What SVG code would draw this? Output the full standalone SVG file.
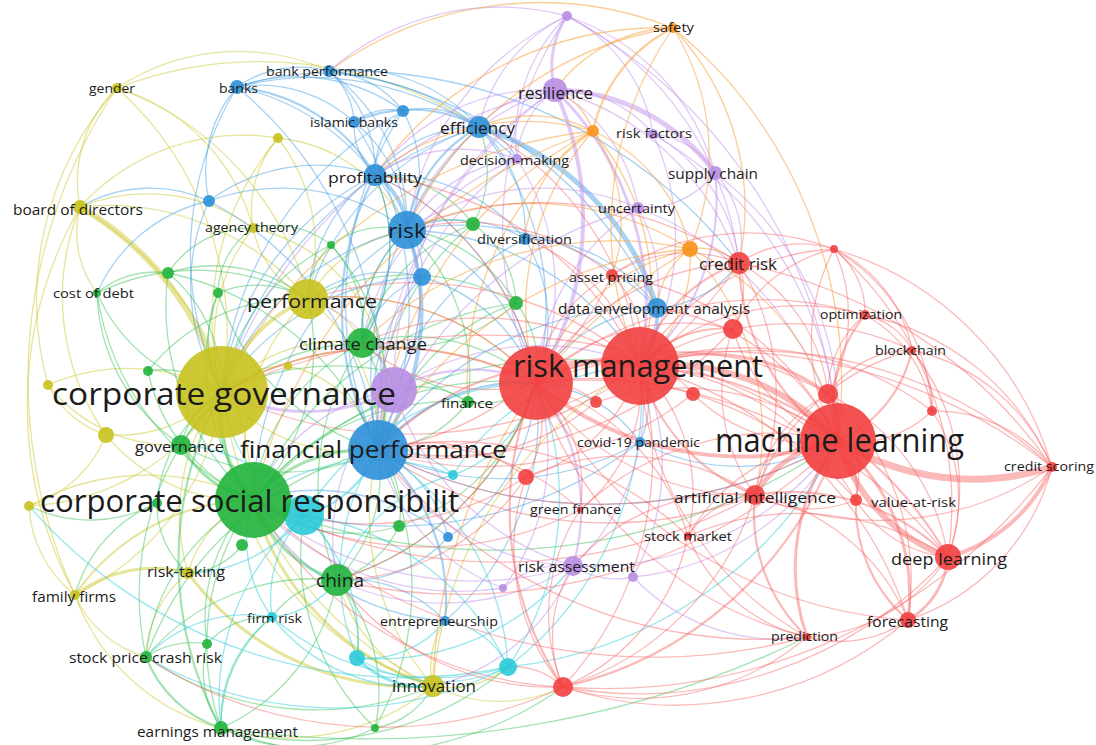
<svg xmlns="http://www.w3.org/2000/svg" width="1096" height="745" viewBox="0 0 1096 745">
<style>
.e path{fill:none;stroke-width:1.3;stroke-linecap:round}
.ey path{stroke:#d0ca38;stroke-opacity:.5}
.eg path{stroke:#34bf52;stroke-opacity:.45}
.eb path{stroke:#3d9be0;stroke-opacity:.45}
.ec path{stroke:#2fcfdb;stroke-opacity:.5}
.ep path{stroke:#c493ec;stroke-opacity:.5}
.eo path{stroke:#f8a442;stroke-opacity:.55}
.er path{stroke:#f65a5a;stroke-opacity:.42}
.e .t2{stroke-width:2.2}
.e .t3{stroke-width:3}
.e .t4{stroke-width:4}
.e .t5{stroke-width:5}
.e .t6{stroke-width:6}
.e .t7{stroke-width:7}
circle{fill-opacity:.9}
.y{fill:#c8c21e}
.g{fill:#21b43c}
.b{fill:#2e90d8}
.c{fill:#2bcad8}
.p{fill:#b88ee3}
.o{fill:#f7941d}
.r{fill:#f2403f}
text{font-family:"Open Sans","Noto Sans","DejaVu Sans",sans-serif;fill:#1b1b1b}
</style>
<rect width="1096" height="745" fill="#ffffff"/>
<g id="edges" class="e">
<g class="ey">
<path d="M117 88A130 130 0 0 0 80 207"/>
<path d="M117 88A330 330 0 0 1 222 392"/>
<path d="M117 88A300 300 0 0 1 308 299"/>
<path d="M117 88A200 200 0 0 1 253 228"/>
<path d="M117 88A220 220 0 0 1 329 71"/>
<path d="M117 88A400 400 0 0 1 479 127"/>
<path d="M117 88A320 320 0 0 0 48 385"/>
<path d="M117 88A520 520 0 0 0 75 595"/>
<path class="t6" d="M80 207A300 300 0 0 1 222 392"/>
<path d="M80 207A260 260 0 0 1 308 299"/>
<path d="M80 207A180 180 0 0 1 253 228"/>
<path d="M80 207A220 220 0 0 1 278 138"/>
<path d="M80 207A100 100 0 0 0 97 293"/>
<path d="M80 207A240 240 0 0 0 106 435"/>
<path d="M80 207A400 400 0 0 0 75 595"/>
<path d="M80 207A360 360 0 0 1 253 500"/>
<path d="M222 392A200 200 0 0 0 48 385"/>
<path d="M222 392A150 150 0 0 1 106 435"/>
<path d="M222 392A240 240 0 0 1 29 506"/>
<path d="M222 392A260 260 0 0 1 75 595"/>
<path d="M222 392A200 200 0 0 0 188 573"/>
<path class="t4" d="M222 392A150 150 0 0 1 308 299"/>
<path d="M222 392A380 380 0 0 0 433 686"/>
<path d="M222 392A180 180 0 0 1 253 228"/>
<path d="M222 392A170 170 0 0 0 378 450"/>
<path d="M222 392A330 330 0 0 1 536 383"/>
<path d="M48 385A100 100 0 0 0 106 435"/>
<path d="M106 435A120 120 0 0 1 29 506"/>
<path d="M29 506A120 120 0 0 0 75 595"/>
<path d="M29 506A240 240 0 0 1 253 500"/>
<path class="t3" d="M75 595A130 130 0 0 1 188 573"/>
<path class="t2" d="M75 595A220 220 0 0 1 253 500"/>
<path d="M75 595A110 110 0 0 0 146 657"/>
<path d="M188 573A110 110 0 0 1 253 500"/>
<path class="t3" d="M433 686A270 270 0 0 1 253 500"/>
<path d="M433 686A160 160 0 0 1 337 580"/>
<path d="M433 686A80 80 0 0 1 445 621"/>
<path d="M433 686A90 90 0 0 0 508 667"/>
<path d="M433 686A260 260 0 0 1 378 450"/>
<path d="M433 686A150 150 0 0 0 563 687"/>
<path class="t3" d="M433 686A280 280 0 0 1 188 573"/>
<path d="M308 299A100 100 0 0 1 253 228"/>
<path d="M308 299A80 80 0 0 1 362 343"/>
<path d="M308 299A180 180 0 0 1 378 450"/>
<path d="M308 299A140 140 0 0 1 407 230"/>
<path d="M308 299A260 260 0 0 1 536 383"/>
<path d="M278 138A110 110 0 0 0 253 228"/>
<path d="M278 138A180 180 0 0 1 308 299"/>
<path d="M278 138A280 280 0 0 0 222 392"/>
<path d="M278 138A160 160 0 0 1 407 230"/>
<path d="M288 366A90 90 0 0 0 222 392"/>
<path d="M75 595A210 210 0 0 0 221 728"/>
<path d="M106 435A180 180 0 0 0 253 500"/>
<path d="M48 385A160 160 0 0 0 181 445"/>
<path d="M222 392A160 160 0 0 1 362 343"/>
<path d="M188 573A110 110 0 0 0 146 657"/>
<path d="M433 686A230 230 0 0 1 221 728"/>
<path d="M433 686A400 400 0 0 1 640 366"/>
<path d="M288 366A120 120 0 0 1 378 450"/>
<path d="M308 299A200 200 0 0 0 253 500"/>
<path d="M253 228A170 170 0 0 1 378 450"/>
<path d="M433 686A300 300 0 0 1 222 392"/>
</g>
<g class="eg">
<path class="t3" d="M253 500A110 110 0 0 1 181 445"/>
<path d="M253 500A200 200 0 0 1 362 343"/>
<path class="t3" d="M253 500A130 130 0 0 0 337 580"/>
<path d="M253 500A200 200 0 0 0 146 657"/>
<path d="M253 500A250 250 0 0 0 221 728"/>
<path d="M253 500A250 250 0 0 1 468 402"/>
<path d="M253 500A170 170 0 0 0 207 644"/>
<path class="t4" d="M253 500A130 130 0 0 1 222 392"/>
<path class="t3" d="M253 500A150 150 0 0 1 378 450"/>
<path d="M253 500A320 320 0 0 1 536 383"/>
<path d="M253 500A160 160 0 0 0 399 526"/>
<path d="M253 500A220 220 0 0 1 218 293"/>
<path d="M253 500A260 260 0 0 1 168 273"/>
<path d="M253 500A270 270 0 0 1 97 293"/>
<path d="M253 500A220 220 0 0 0 308 299"/>
<path d="M253 500A420 420 0 0 1 640 366"/>
<path d="M253 500A600 600 0 0 0 838 441"/>
<path d="M337 580A200 200 0 0 1 221 728"/>
<path d="M337 580A220 220 0 0 0 146 657"/>
<path d="M337 580A90 90 0 0 0 272 617"/>
<path d="M337 580A170 170 0 0 1 375 728"/>
<path d="M337 580A100 100 0 0 1 357 658"/>
<path d="M337 580A150 150 0 0 0 378 450"/>
<path d="M337 580A250 250 0 0 1 362 343"/>
<path d="M337 580A300 300 0 0 0 536 383"/>
<path d="M362 343A120 120 0 0 1 378 450"/>
<path d="M362 343A190 190 0 0 1 536 383"/>
<path d="M362 343A120 120 0 0 0 331 245"/>
<path d="M362 343A70 70 0 0 1 394 390"/>
<path d="M362 343A140 140 0 0 1 407 230"/>
<path d="M168 273A150 150 0 0 1 222 392"/>
<path d="M168 273A90 90 0 0 0 97 293"/>
<path d="M168 273A290 290 0 0 1 378 450"/>
<path d="M218 293A110 110 0 0 0 222 392"/>
<path d="M218 293A100 100 0 0 1 308 299"/>
<path d="M97 293A170 170 0 0 0 222 392"/>
<path d="M97 293A190 190 0 0 0 181 445"/>
<path d="M148 371A90 90 0 0 1 222 392"/>
<path d="M148 371A180 180 0 0 0 253 500"/>
<path class="t2" d="M146 657A120 120 0 0 0 221 728"/>
<path d="M146 657A80 80 0 0 1 207 644"/>
<path d="M146 657A290 290 0 0 1 222 392"/>
<path d="M221 728A100 100 0 0 1 207 644"/>
<path class="t2" d="M221 728A350 350 0 0 1 222 392"/>
<path d="M221 728A170 170 0 0 0 375 728"/>
<path d="M221 728A140 140 0 0 1 272 617"/>
<path d="M207 644A80 80 0 0 1 272 617"/>
<path d="M375 728A240 240 0 0 1 304 515"/>
<path d="M375 728A290 290 0 0 0 378 450"/>
<path d="M468 402A80 80 0 0 0 536 383"/>
<path d="M468 402A260 260 0 0 0 222 392"/>
<path d="M473 224A80 80 0 0 0 407 230"/>
<path d="M473 224A260 260 0 0 0 378 450"/>
<path d="M473 224A100 100 0 0 1 516 303"/>
<path d="M516 303A100 100 0 0 1 536 383"/>
<path d="M516 303A220 220 0 0 0 378 450"/>
<path d="M516 303A340 340 0 0 0 253 500"/>
<path d="M181 445A80 80 0 0 1 222 392"/>
<path d="M242 545A70 70 0 0 1 188 573"/>
<path d="M399 526A90 90 0 0 0 378 450"/>
<path d="M157 503A150 150 0 0 1 222 392"/>
<path d="M221 728A310 310 0 0 0 508 667"/>
<path d="M221 728A360 360 0 0 0 563 687"/>
<path d="M146 657A300 300 0 0 0 433 686"/>
<path d="M375 728A80 80 0 0 0 433 686"/>
<path d="M331 245A90 90 0 0 1 407 230"/>
<path d="M331 245A220 220 0 0 1 378 450"/>
<path d="M362 343A180 180 0 0 1 473 224"/>
<path d="M221 728A1000 1000 0 0 0 807 637"/>
<path d="M516 303A150 150 0 0 0 407 230"/>
<path d="M516 303A170 170 0 0 1 362 343"/>
<path d="M516 303A220 220 0 0 0 308 299"/>
<path d="M331 245A200 200 0 0 0 222 392"/>
<path d="M331 245A70 70 0 0 0 308 299"/>
<path d="M331 245A90 90 0 0 0 253 228"/>
<path d="M468 402A120 120 0 0 1 378 450"/>
<path d="M468 402A90 90 0 0 0 394 390"/>
<path d="M468 402A200 200 0 0 0 407 230"/>
<path d="M399 526A100 100 0 0 1 337 580"/>
<path d="M399 526A210 210 0 0 0 536 383"/>
<path d="M362 343A180 180 0 0 0 375 175"/>
<path d="M473 224A120 120 0 0 0 375 175"/>
<path d="M473 224A110 110 0 0 0 479 127"/>
<path d="M97 293A230 230 0 0 1 308 299"/>
<path d="M168 273A150 150 0 0 1 308 299"/>
<path d="M168 273A100 100 0 0 1 253 228"/>
<path d="M218 293A80 80 0 0 1 253 228"/>
<path d="M218 293A240 240 0 0 0 378 450"/>
<path d="M148 371A190 190 0 0 1 308 299"/>
<path d="M157 503A140 140 0 0 0 75 595"/>
<path d="M157 503A90 90 0 0 0 188 573"/>
<path d="M157 503A140 140 0 0 1 29 506"/>
<path d="M181 445A210 210 0 0 0 378 450"/>
<path d="M181 445A220 220 0 0 1 362 343"/>
<path d="M146 657A330 330 0 0 1 378 450"/>
</g>
<g class="eb">
<path d="M237 87A110 110 0 0 1 329 71"/>
<path d="M237 87A140 140 0 0 1 354 122"/>
<path class="t2" d="M237 87A180 180 0 0 1 375 175"/>
<path d="M237 87A240 240 0 0 1 407 230"/>
<path d="M237 87A400 400 0 0 1 378 450"/>
<path d="M237 87A130 130 0 0 0 209 201"/>
<path d="M237 87A260 260 0 0 1 479 127"/>
<path d="M237 87A180 180 0 0 1 403 111"/>
<path d="M237 87A320 320 0 0 0 222 392"/>
<path d="M329 71A70 70 0 0 1 354 122"/>
<path d="M329 71A130 130 0 0 1 375 175"/>
<path d="M329 71A170 170 0 0 1 479 127"/>
<path d="M329 71A100 100 0 0 1 403 111"/>
<path d="M329 71A190 190 0 0 1 407 230"/>
<path d="M329 71A420 420 0 0 1 657 308"/>
<path d="M329 71A500 500 0 0 1 739 263"/>
<path d="M354 122A70 70 0 0 0 375 175"/>
<path class="t2" d="M354 122A140 140 0 0 1 479 127"/>
<path d="M354 122A140 140 0 0 1 407 230"/>
<path d="M354 122A60 60 0 0 1 403 111"/>
<path d="M403 111A90 90 0 0 1 479 127"/>
<path d="M403 111A80 80 0 0 0 375 175"/>
<path class="t4" d="M375 175A70 70 0 0 1 407 230"/>
<path class="t2" d="M375 175A290 290 0 0 0 378 450"/>
<path d="M375 175A130 130 0 0 1 479 127"/>
<path class="t4" d="M407 230A240 240 0 0 1 378 450"/>
<path class="t2" d="M407 230A140 140 0 0 1 479 127"/>
<path d="M407 230A60 60 0 0 1 422 277"/>
<path d="M407 230A130 130 0 0 1 525 239"/>
<path d="M407 230A260 260 0 0 0 222 392"/>
<path d="M407 230A210 210 0 0 1 536 383"/>
<path d="M407 230A280 280 0 0 1 640 366"/>
<path class="t5" d="M479 127A270 270 0 0 1 657 308"/>
<path d="M479 127A60 60 0 0 1 517 159"/>
<path d="M479 127A140 140 0 0 1 525 239"/>
<path d="M479 127A280 280 0 0 1 536 383"/>
<path d="M209 201A320 320 0 0 1 378 450"/>
<path d="M209 201A210 210 0 0 1 407 230"/>
<path d="M209 201A200 200 0 0 0 222 392"/>
<path d="M209 201A160 160 0 0 0 97 293"/>
<path d="M209 201A180 180 0 0 1 375 175"/>
<path class="t2" d="M378 450A200 200 0 0 1 445 621"/>
<path d="M378 450A130 130 0 0 1 448 537"/>
<path class="t2" d="M378 450A190 190 0 0 1 536 383"/>
<path d="M378 450A280 280 0 0 0 640 442"/>
<path d="M657 308A280 280 0 0 0 407 230"/>
<path class="t3" d="M657 308A80 80 0 0 1 640 366"/>
<path d="M657 308A160 160 0 0 0 536 383"/>
<path d="M640 442A140 140 0 0 0 536 383"/>
<path d="M640 442A90 90 0 0 0 640 366"/>
<path d="M445 621A130 130 0 0 0 337 580"/>
<path d="M445 621A240 240 0 0 1 253 500"/>
<path d="M422 277A190 190 0 0 0 378 450"/>
<path d="M448 537A210 210 0 0 0 253 500"/>
<path d="M525 239A270 270 0 0 0 378 450"/>
<path d="M422 277A170 170 0 0 1 536 383"/>
<path d="M403 111A350 350 0 0 0 378 450"/>
<path d="M479 127A350 350 0 0 0 378 450"/>
<path d="M237 87A300 300 0 0 1 517 159"/>
<path d="M209 201A140 140 0 0 0 80 207"/>
<path d="M445 621A270 270 0 0 0 536 383"/>
<path d="M378 450A480 480 0 0 0 838 441"/>
<path d="M640 442A210 210 0 0 0 838 441"/>
<path d="M375 175A280 280 0 0 0 222 392"/>
<path d="M375 175A160 160 0 0 0 308 299"/>
<path d="M375 175A180 180 0 0 1 362 343"/>
<path d="M375 175A180 180 0 0 1 525 239"/>
<path d="M375 175A280 280 0 0 1 536 383"/>
<path d="M407 230A140 140 0 0 0 362 343"/>
<path d="M407 230A330 330 0 0 0 253 500"/>
<path d="M407 230A180 180 0 0 1 394 390"/>
<path d="M422 277A100 100 0 0 0 362 343"/>
<path d="M422 277A250 250 0 0 0 222 392"/>
<path d="M422 277A130 130 0 0 0 308 299"/>
<path d="M479 127A380 380 0 0 0 222 392"/>
<path d="M479 127A260 260 0 0 0 308 299"/>
<path d="M403 111A130 130 0 0 1 407 230"/>
<path d="M403 111A350 350 0 0 0 222 392"/>
<path d="M354 122A340 340 0 0 1 378 450"/>
<path d="M525 239A160 160 0 0 1 536 383"/>
<path d="M525 239A160 160 0 0 1 657 308"/>
<path d="M448 537A190 190 0 0 0 536 383"/>
<path d="M448 537A130 130 0 0 1 337 580"/>
<path d="M657 308A330 330 0 0 0 378 450"/>
<path d="M657 308A110 110 0 0 0 739 263"/>
<path d="M640 442A400 400 0 0 1 253 500"/>
</g>
<g class="ec">
<path class="t3" d="M304 515A70 70 0 0 1 253 500"/>
<path class="t2" d="M304 515A110 110 0 0 0 378 450"/>
<path d="M304 515A80 80 0 0 1 337 580"/>
<path d="M304 515A120 120 0 0 0 272 617"/>
<path d="M304 515A170 170 0 0 1 357 658"/>
<path d="M304 515A270 270 0 0 1 508 667"/>
<path d="M304 515A160 160 0 0 1 222 392"/>
<path d="M272 617A130 130 0 0 1 253 500"/>
<path d="M272 617A90 90 0 0 0 337 580"/>
<path class="t3" d="M357 658A90 90 0 0 0 433 686"/>
<path d="M357 658A160 160 0 0 0 508 667"/>
<path d="M508 667A300 300 0 0 0 536 383"/>
<path d="M508 667A270 270 0 0 0 378 450"/>
<path d="M453 475A90 90 0 0 0 378 450"/>
<path d="M453 475A210 210 0 0 0 253 500"/>
<path d="M508 667A380 380 0 0 1 146 657"/>
<path d="M272 617A250 250 0 0 0 508 667"/>
<path d="M508 667A80 80 0 0 0 445 621"/>
<path d="M508 667A340 340 0 0 0 640 366"/>
<path d="M357 658A220 220 0 0 1 378 450"/>
<path d="M453 475A130 130 0 0 0 536 383"/>
<path d="M304 515A280 280 0 0 1 536 383"/>
<path d="M508 667A420 420 0 0 0 838 441"/>
<path d="M508 667A500 500 0 0 1 29 506"/>
<path d="M304 515A160 160 0 0 0 181 445"/>
<path d="M304 515A150 150 0 0 1 188 573"/>
<path d="M304 515A240 240 0 0 0 221 728"/>
<path d="M453 475A230 230 0 0 1 640 366"/>
<path d="M453 475A170 170 0 0 0 337 580"/>
<path d="M272 617A130 130 0 0 0 221 728"/>
<path d="M272 617A140 140 0 0 0 146 657"/>
<path d="M272 617A180 180 0 0 0 433 686"/>
<path d="M357 658A100 100 0 0 0 445 621"/>
<path d="M357 658A250 250 0 0 0 573 566"/>
</g>
<g class="ep">
<path class="t3" d="M555 90A90 90 0 0 1 567 16"/>
<path d="M555 90A90 90 0 0 0 517 159"/>
<path d="M555 90A100 100 0 0 0 479 127"/>
<path d="M555 90A160 160 0 0 1 638 208"/>
<path class="t5" d="M555 90A200 200 0 0 1 715 173"/>
<path d="M555 90A120 120 0 0 1 653 134"/>
<path class="t4" d="M555 90A310 310 0 0 1 536 383"/>
<path class="t3" d="M555 90A300 300 0 0 1 640 366"/>
<path d="M555 90A220 220 0 0 0 407 230"/>
<path d="M567 16A380 380 0 0 0 536 383"/>
<path d="M567 16A160 160 0 0 0 479 127"/>
<path d="M567 16A230 230 0 0 1 715 173"/>
<path d="M567 16A160 160 0 0 1 653 134"/>
<path d="M567 16A320 320 0 0 1 739 263"/>
<path d="M567 16A170 170 0 0 0 517 159"/>
<path d="M567 16A280 280 0 0 0 407 230"/>
<path d="M567 16A260 260 0 0 0 329 71"/>
<path d="M715 173A80 80 0 0 0 653 134"/>
<path d="M715 173A90 90 0 0 1 638 208"/>
<path class="t2" d="M715 173A220 220 0 0 1 640 366"/>
<path d="M715 173A100 100 0 0 1 739 263"/>
<path d="M715 173A310 310 0 0 1 838 441"/>
<path d="M638 208A170 170 0 0 1 640 366"/>
<path d="M638 208A220 220 0 0 0 536 383"/>
<path d="M517 159A240 240 0 0 1 536 383"/>
<path d="M517 159A150 150 0 0 0 407 230"/>
<path class="t3" d="M394 390A190 190 0 0 1 222 392"/>
<path d="M394 390A80 80 0 0 0 378 450"/>
<path class="t2" d="M394 390A160 160 0 0 1 536 383"/>
<path d="M394 390A190 190 0 0 0 253 500"/>
<path d="M394 390A350 350 0 0 1 555 90"/>
<path class="t2" d="M573 566A200 200 0 0 0 536 383"/>
<path d="M573 566A220 220 0 0 0 640 366"/>
<path d="M573 566A310 310 0 0 0 838 441"/>
<path d="M573 566A80 80 0 0 0 633 577"/>
<path d="M573 566A90 90 0 0 0 503 588"/>
<path d="M573 566A240 240 0 0 1 378 450"/>
<path d="M653 134A250 250 0 0 1 640 366"/>
<path d="M653 134A170 170 0 0 1 739 263"/>
<path d="M633 577A230 230 0 0 0 640 366"/>
<path d="M503 588A200 200 0 0 1 378 450"/>
<path d="M555 90A270 270 0 0 1 739 263"/>
<path d="M638 208A320 320 0 0 1 838 441"/>
<path d="M653 134A370 370 0 0 1 838 441"/>
<path d="M394 390A270 270 0 0 0 573 566"/>
<path d="M567 16A520 520 0 0 1 838 441"/>
<path d="M633 577A200 200 0 0 0 807 637"/>
<path d="M573 566A200 200 0 0 1 433 686"/>
<path d="M394 390A130 130 0 0 0 308 299"/>
<path d="M394 390A180 180 0 0 0 407 230"/>
<path d="M394 390A210 210 0 0 0 337 580"/>
<path d="M394 390A260 260 0 0 1 640 366"/>
<path d="M517 159A340 340 0 0 0 378 450"/>
<path d="M517 159A160 160 0 0 0 375 175"/>
<path d="M517 159A250 250 0 0 0 362 343"/>
<path d="M638 208A370 370 0 0 0 378 450"/>
<path d="M638 208A240 240 0 0 0 407 230"/>
<path d="M555 90A420 420 0 0 0 378 450"/>
<path d="M555 90A210 210 0 0 0 375 175"/>
<path d="M555 90A460 460 0 0 0 222 392"/>
<path d="M573 566A340 340 0 0 1 253 500"/>
<path d="M573 566A250 250 0 0 1 337 580"/>
<path d="M503 588A280 280 0 0 1 253 500"/>
<path d="M503 588A220 220 0 0 0 536 383"/>
<path d="M633 577A260 260 0 0 0 838 441"/>
</g>
<g class="eo">
<path class="t2" d="M673 28A150 150 0 0 0 593 131"/>
<path d="M673 28A240 240 0 0 1 690 249"/>
<path d="M673 28A150 150 0 0 0 555 90"/>
<path d="M673 28A350 350 0 0 0 407 230"/>
<path d="M673 28A260 260 0 0 1 739 263"/>
<path d="M673 28A350 350 0 0 0 640 366"/>
<path d="M673 28A460 460 0 0 1 838 441"/>
<path d="M593 131A70 70 0 0 0 555 90"/>
<path d="M593 131A270 270 0 0 0 536 383"/>
<path d="M593 131A250 250 0 0 1 640 366"/>
<path d="M593 131A160 160 0 0 1 612 275"/>
<path d="M593 131A130 130 0 0 0 479 127"/>
<path d="M593 131A170 170 0 0 1 690 249"/>
<path d="M593 131A240 240 0 0 0 375 175"/>
<path d="M690 249A140 140 0 0 1 640 366"/>
<path d="M690 249A60 60 0 0 1 739 263"/>
<path d="M690 249A260 260 0 0 1 838 441"/>
<path d="M690 249A80 80 0 0 0 657 308"/>
<path d="M690 249A300 300 0 0 0 407 230"/>
<path d="M690 249A360 360 0 0 0 362 343"/>
<path d="M593 131A470 470 0 0 0 222 392"/>
<path d="M690 249A270 270 0 0 1 755 495"/>
<path d="M593 131A140 140 0 0 0 525 239"/>
<path d="M673 28A360 360 0 0 0 329 71"/>
<path d="M690 249A520 520 0 0 0 433 686"/>
<path d="M593 131A310 310 0 0 0 468 402"/>
<path d="M593 131A400 400 0 0 0 378 450"/>
<path d="M593 131A520 520 0 0 0 253 500"/>
<path d="M690 249A390 390 0 0 0 378 450"/>
<path d="M673 28A350 350 0 0 0 375 175"/>
<path d="M690 249A220 220 0 0 0 536 383"/>
</g>
<g class="er">
<path class="t6" d="M536 383A120 120 0 0 1 640 366"/>
<path class="t6" d="M640 366A230 230 0 0 1 838 441"/>
<path class="t4" d="M536 383A320 320 0 0 0 838 441"/>
<path class="t7" d="M838 441A260 260 0 0 0 1052 467"/>
<path class="t6" d="M838 441A180 180 0 0 0 948 557"/>
<path class="t5" d="M838 441A110 110 0 0 0 755 495"/>
<path class="t3" d="M838 441A200 200 0 0 1 908 620"/>
<path class="t3" d="M838 441A210 210 0 0 0 807 637"/>
<path class="t2" d="M838 441A70 70 0 0 1 856 500"/>
<path class="t3" d="M838 441A60 60 0 0 0 828 394"/>
<path d="M838 441A110 110 0 0 0 932 411"/>
<path class="t2" d="M838 441A130 130 0 0 0 912 350"/>
<path class="t2" d="M838 441A140 140 0 0 1 865 315"/>
<path d="M838 441A200 200 0 0 1 834 249"/>
<path class="t2" d="M838 441A220 220 0 0 1 739 263"/>
<path d="M838 441A170 170 0 0 1 733 329"/>
<path d="M838 441A170 170 0 0 1 693 394"/>
<path class="t4" d="M1052 467A160 160 0 0 1 948 557"/>
<path d="M1052 467A150 150 0 0 0 932 411"/>
<path d="M1052 467A320 320 0 0 0 834 249"/>
<path d="M1052 467A310 310 0 0 1 755 495"/>
<path d="M1052 467A220 220 0 0 1 908 620"/>
<path class="t3" d="M948 557A80 80 0 0 1 908 620"/>
<path class="t2" d="M948 557A220 220 0 0 0 755 495"/>
<path d="M948 557A220 220 0 0 0 828 394"/>
<path d="M948 557A120 120 0 0 1 856 500"/>
<path d="M948 557A160 160 0 0 0 932 411"/>
<path d="M948 557A180 180 0 0 1 807 637"/>
<path d="M948 557A220 220 0 0 0 912 350"/>
<path d="M908 620A120 120 0 0 1 807 637"/>
<path d="M908 620A210 210 0 0 0 755 495"/>
<path class="t2" d="M908 620A150 150 0 0 1 856 500"/>
<path d="M908 620A250 250 0 0 0 828 394"/>
<path class="t2" d="M807 637A170 170 0 0 1 755 495"/>
<path d="M807 637A330 330 0 0 1 640 366"/>
<path d="M807 637A170 170 0 0 1 688 536"/>
<path class="t2" d="M755 495A190 190 0 0 1 640 366"/>
<path d="M755 495A260 260 0 0 1 536 383"/>
<path d="M755 495A90 90 0 0 0 688 536"/>
<path d="M755 495A120 120 0 0 0 856 500"/>
<path d="M755 495A180 180 0 0 1 733 329"/>
<path d="M755 495A230 230 0 0 1 912 350"/>
<path d="M834 249A110 110 0 0 0 739 263"/>
<path d="M834 249A150 150 0 0 0 733 329"/>
<path d="M834 249A240 240 0 0 0 640 366"/>
<path d="M834 249A140 140 0 0 1 912 350"/>
<path d="M834 249A80 80 0 0 1 865 315"/>
<path d="M834 249A160 160 0 0 1 828 394"/>
<path d="M834 249A240 240 0 0 0 612 275"/>
<path d="M865 315A100 100 0 0 0 828 394"/>
<path d="M865 315A70 70 0 0 1 912 350"/>
<path d="M865 315A240 240 0 0 0 640 366"/>
<path d="M912 350A100 100 0 0 0 828 394"/>
<path d="M912 350A80 80 0 0 1 932 411"/>
<path d="M912 350A290 290 0 0 0 640 366"/>
<path class="t2" d="M739 263A160 160 0 0 0 640 366"/>
<path d="M739 263A80 80 0 0 1 733 329"/>
<path d="M739 263A250 250 0 0 0 536 383"/>
<path d="M739 263A140 140 0 0 0 612 275"/>
<path class="t2" d="M733 329A110 110 0 0 0 640 366"/>
<path d="M733 329A210 210 0 0 0 536 383"/>
<path d="M693 394A70 70 0 0 0 640 366"/>
<path d="M596 402A80 80 0 0 0 536 383"/>
<path d="M526 477A110 110 0 0 0 536 383"/>
<path d="M526 477A170 170 0 0 0 640 366"/>
<path d="M526 477A220 220 0 0 0 563 687"/>
<path class="t2" d="M563 687A320 320 0 0 1 536 383"/>
<path d="M563 687A340 340 0 0 0 640 366"/>
<path d="M563 687A130 130 0 0 1 573 566"/>
<path d="M563 687A190 190 0 0 1 580 510"/>
<path class="t2" d="M563 687A380 380 0 0 0 838 441"/>
<path d="M563 687A290 290 0 0 0 755 495"/>
<path d="M563 687A420 420 0 0 0 948 557"/>
<path d="M580 510A140 140 0 0 0 536 383"/>
<path d="M580 510A160 160 0 0 0 640 366"/>
<path d="M688 536A180 180 0 0 0 640 366"/>
<path d="M612 275A140 140 0 0 0 536 383"/>
<path d="M612 275A100 100 0 0 1 640 366"/>
<path class="t2" d="M536 383A330 330 0 0 0 222 392"/>
<path class="t2" d="M640 366A290 290 0 0 0 378 450"/>
<path d="M838 441A480 480 0 0 1 378 450"/>
<path d="M563 687A70 70 0 0 0 508 667"/>
<path d="M563 687A430 430 0 0 1 146 657"/>
<path d="M1052 467A560 560 0 0 1 563 687"/>
<path d="M807 637A260 260 0 0 1 563 687"/>
<path d="M838 441A540 540 0 0 1 337 580"/>
<path class="t3" d="M828 394A200 200 0 0 0 640 366"/>
<path d="M828 394A170 170 0 0 0 739 263"/>
<path d="M932 411A200 200 0 0 0 834 249"/>
<path d="M932 411A130 130 0 0 0 865 315"/>
<path d="M856 500A270 270 0 0 0 640 366"/>
<path class="t2" d="M948 557A380 380 0 0 0 640 366"/>
<path d="M908 620A380 380 0 0 0 640 366"/>
<path d="M1052 467A440 440 0 0 0 640 366"/>
<path d="M1052 467A200 200 0 0 0 912 350"/>
<path d="M1052 467A260 260 0 0 0 865 315"/>
<path d="M834 249A340 340 0 0 1 948 557"/>
<path d="M657 308A240 240 0 0 1 838 441"/>
<path d="M573 566A210 210 0 0 1 755 495"/>
<path d="M688 536A190 190 0 0 1 838 441"/>
<path d="M580 510A280 280 0 0 1 838 441"/>
<path d="M807 637A380 380 0 0 1 536 383"/>
<path d="M908 620A460 460 0 0 1 536 383"/>
<path d="M596 402A260 260 0 0 1 838 441"/>
<path d="M612 275A300 300 0 0 1 838 441"/>
<path d="M739 263A250 250 0 0 1 755 495"/>
<path d="M828 394A140 140 0 0 0 755 495"/>
<path d="M856 500A120 120 0 0 0 828 394"/>
<path d="M739 263A500 500 0 0 1 1052 467"/>
<path d="M536 383A260 260 0 0 0 308 299"/>
<path d="M536 383A190 190 0 0 1 362 343"/>
<path d="M536 383A300 300 0 0 1 337 580"/>
<path d="M536 383A280 280 0 0 0 375 175"/>
<path d="M640 366A430 430 0 0 1 222 392"/>
<path d="M640 366A350 350 0 0 0 308 299"/>
<path d="M640 366A290 290 0 0 0 362 343"/>
<path d="M640 366A340 340 0 0 0 375 175"/>
<path d="M640 366A300 300 0 0 0 479 127"/>
<path d="M640 366A190 190 0 0 0 525 239"/>
<path d="M596 402A240 240 0 0 1 378 450"/>
<path d="M526 477A160 160 0 0 0 378 450"/>
<path d="M526 477A290 290 0 0 1 253 500"/>
<path d="M526 477A230 230 0 0 1 337 580"/>
<path d="M563 687A270 270 0 0 1 337 580"/>
<path d="M563 687A380 380 0 0 1 253 500"/>
<path d="M580 510A230 230 0 0 0 378 450"/>
<path d="M580 510A340 340 0 0 1 253 500"/>
<path d="M688 536A340 340 0 0 0 378 450"/>
<path d="M688 536A230 230 0 0 0 536 383"/>
<path d="M612 275A230 230 0 0 0 407 230"/>
<path d="M612 275A310 310 0 0 1 378 450"/>
<path d="M739 263A420 420 0 0 1 378 450"/>
<path d="M739 263A350 350 0 0 0 407 230"/>
<path d="M733 329A390 390 0 0 1 378 450"/>
<path d="M693 394A340 340 0 0 1 378 450"/>
<path d="M838 441A640 640 0 0 0 222 392"/>
<path d="M755 495A400 400 0 0 1 378 450"/>
<path d="M755 495A520 520 0 0 1 253 500"/>
<path d="M948 557A460 460 0 0 0 536 383"/>
<path d="M807 637A480 480 0 0 1 378 450"/>
<path d="M807 637A590 590 0 0 1 253 500"/>
<path d="M828 394A310 310 0 0 0 536 383"/>
<path d="M932 411A310 310 0 0 0 640 366"/>
<path d="M865 315A350 350 0 0 0 536 383"/>
<path d="M1052 467A540 540 0 0 0 536 383"/>
<path d="M856 500A350 350 0 0 0 536 383"/>
<path d="M755 495A240 240 0 0 0 526 477"/>
<path d="M688 536A210 210 0 0 1 563 687"/>
<path d="M908 620A360 360 0 0 1 563 687"/>
<path d="M948 557A280 280 0 0 0 688 536"/>
</g>
</g>
<g id="nodes">
<g id="n-rm1"><circle class="r" cx="536" cy="383" r="37"/></g>
<g id="n-p1"><circle class="p" cx="394" cy="390" r="23"/></g>
<g id="n-c1"><circle class="c" cx="304" cy="515" r="20"/></g>
<g id="n-y1"><circle class="y" cx="278" cy="138" r="5"/></g>
<g id="n-y2"><circle class="y" cx="48" cy="385" r="5"/></g>
<g id="n-y3"><circle class="y" cx="106" cy="435" r="8"/></g>
<g id="n-y4"><circle class="y" cx="29" cy="506" r="5"/></g>
<g id="n-y5"><circle class="y" cx="288" cy="366" r="4"/></g>
<g id="n-g1"><circle class="g" cx="207" cy="644" r="5"/></g>
<g id="n-g2"><circle class="g" cx="375" cy="728" r="4"/></g>
<g id="n-g3"><circle class="g" cx="168" cy="273" r="6"/></g>
<g id="n-g4"><circle class="g" cx="218" cy="293" r="5"/></g>
<g id="n-g5"><circle class="g" cx="331" cy="245" r="4"/></g>
<g id="n-g6"><circle class="g" cx="148" cy="371" r="5"/></g>
<g id="n-g7"><circle class="g" cx="516" cy="303" r="7"/></g>
<g id="n-g8"><circle class="g" cx="242" cy="545" r="6"/></g>
<g id="n-g9"><circle class="g" cx="399" cy="526" r="6"/></g>
<g id="n-g10"><circle class="g" cx="157" cy="503" r="5"/></g>
<g id="n-divg"><circle class="g" cx="473" cy="224" r="7"/></g>
<g id="n-b1"><circle class="b" cx="403" cy="111" r="6"/></g>
<g id="n-b2"><circle class="b" cx="209" cy="201" r="6"/></g>
<g id="n-b3"><circle class="b" cx="422" cy="277" r="9"/></g>
<g id="n-b4"><circle class="b" cx="448" cy="537" r="5"/></g>
<g id="n-c2"><circle class="c" cx="453" cy="475" r="5"/></g>
<g id="n-c3"><circle class="c" cx="357" cy="658" r="8"/></g>
<g id="n-c4"><circle class="c" cx="508" cy="667" r="9"/></g>
<g id="n-p2"><circle class="p" cx="567" cy="16" r="5"/></g>
<g id="n-p3"><circle class="p" cx="633" cy="577" r="5"/></g>
<g id="n-p4"><circle class="p" cx="503" cy="588" r="4"/></g>
<g id="n-o1"><circle class="o" cx="593" cy="131" r="6"/></g>
<g id="n-o2"><circle class="o" cx="690" cy="249" r="8"/></g>
<g id="n-r1"><circle class="r" cx="834" cy="249" r="4"/></g>
<g id="n-r2"><circle class="r" cx="828" cy="394" r="10"/></g>
<g id="n-r3"><circle class="r" cx="932" cy="411" r="5"/></g>
<g id="n-r4"><circle class="r" cx="733" cy="329" r="10"/></g>
<g id="n-r5"><circle class="r" cx="693" cy="394" r="7"/></g>
<g id="n-r6"><circle class="r" cx="596" cy="402" r="6"/></g>
<g id="n-r7"><circle class="r" cx="526" cy="477" r="8"/></g>
<g id="n-r8"><circle class="r" cx="563" cy="687" r="10"/></g>

<g id="n-gender"><circle class="y" cx="117" cy="88" r="5"/><text x="89" y="93" font-size="13" textLength="46" lengthAdjust="spacingAndGlyphs">gender</text></g>
<g id="n-banks"><circle class="b" cx="237" cy="87" r="7"/><text x="219" y="93" font-size="13" textLength="39" lengthAdjust="spacingAndGlyphs">banks</text></g>
<g id="n-bank-performance"><circle class="b" cx="329" cy="71" r="6"/><text x="266" y="76" font-size="12.5" textLength="122" lengthAdjust="spacingAndGlyphs">bank performance</text></g>
<g id="n-islamic-banks"><circle class="b" cx="354" cy="122" r="6"/><text x="310" y="127" font-size="12.5" textLength="88" lengthAdjust="spacingAndGlyphs">islamic banks</text></g>
<g id="n-board-of-directors"><circle class="y" cx="80" cy="207" r="7"/><text x="13" y="215" font-size="14.5" textLength="130" lengthAdjust="spacingAndGlyphs">board of directors</text></g>
<g id="n-agency-theory"><circle class="y" cx="253" cy="228" r="5"/><text x="205" y="232" font-size="12.5" textLength="93" lengthAdjust="spacingAndGlyphs">agency theory</text></g>
<g id="n-cost-of-debt"><circle class="g" cx="97" cy="293" r="4"/><text x="53" y="298" font-size="12.5" textLength="81" lengthAdjust="spacingAndGlyphs">cost of debt</text></g>
<g id="n-profitability"><circle class="b" cx="375" cy="175" r="11"/><text x="328" y="183" font-size="15" textLength="94" lengthAdjust="spacingAndGlyphs">profitability</text></g>
<g id="n-efficiency"><circle class="b" cx="479" cy="127" r="11"/><text x="440" y="134" font-size="16" textLength="75" lengthAdjust="spacingAndGlyphs">efficiency</text></g>
<g id="n-resilience"><circle class="p" cx="555" cy="90" r="12"/><text x="518" y="99" font-size="16" textLength="75" lengthAdjust="spacingAndGlyphs">resilience</text></g>
<g id="n-safety"><circle class="o" cx="673" cy="28" r="5"/><text x="653" y="32" font-size="12.5" textLength="41" lengthAdjust="spacingAndGlyphs">safety</text></g>
<g id="n-risk-factors"><circle class="p" cx="653" cy="134" r="5"/><text x="616" y="138" font-size="12.5" textLength="76" lengthAdjust="spacingAndGlyphs">risk factors</text></g>
<g id="n-decision-making"><circle class="p" cx="517" cy="159" r="5"/><text x="460" y="165" font-size="12.5" textLength="109" lengthAdjust="spacingAndGlyphs">decision-making</text></g>
<g id="n-supply-chain"><circle class="p" cx="715" cy="173" r="7"/><text x="668" y="179" font-size="14" textLength="90" lengthAdjust="spacingAndGlyphs">supply chain</text></g>
<g id="n-uncertainty"><circle class="p" cx="638" cy="208" r="6"/><text x="598" y="213" font-size="12.5" textLength="77" lengthAdjust="spacingAndGlyphs">uncertainty</text></g>
<g id="n-diversification"><circle class="b" cx="525" cy="239" r="6"/><text x="477" y="244" font-size="12.5" textLength="95" lengthAdjust="spacingAndGlyphs">diversification</text></g>
<g id="n-risk"><circle class="b" cx="407" cy="230" r="19"/><text x="388" y="238" font-size="20" textLength="38" lengthAdjust="spacingAndGlyphs">risk</text></g>
<g id="n-asset-pricing"><circle class="r" cx="612" cy="275" r="6"/><text x="569" y="282" font-size="12.5" textLength="84" lengthAdjust="spacingAndGlyphs">asset pricing</text></g>
<g id="n-credit-risk"><circle class="r" cx="739" cy="263" r="11"/><text x="699" y="270" font-size="16" textLength="78" lengthAdjust="spacingAndGlyphs">credit risk</text></g>
<g id="n-data-envelopment-analysis"><circle class="b" cx="657" cy="308" r="10"/><text x="558" y="314" font-size="14" textLength="192" lengthAdjust="spacingAndGlyphs">data envelopment analysis</text></g>
<g id="n-optimization"><circle class="r" cx="865" cy="315" r="5"/><text x="820" y="319" font-size="12.5" textLength="82" lengthAdjust="spacingAndGlyphs">optimization</text></g>
<g id="n-blockchain"><circle class="r" cx="912" cy="350" r="4"/><text x="875" y="355" font-size="12.5" textLength="71" lengthAdjust="spacingAndGlyphs">blockchain</text></g>
<g id="n-performance"><circle class="y" cx="308" cy="299" r="20"/><text x="247" y="308" font-size="19" textLength="130" lengthAdjust="spacingAndGlyphs">performance</text></g>
<g id="n-climate-change"><circle class="g" cx="362" cy="343" r="15"/><text x="299" y="350" font-size="15.5" textLength="128" lengthAdjust="spacingAndGlyphs">climate change</text></g>
<g id="n-finance"><circle class="g" cx="468" cy="402" r="6"/><text x="441" y="408" font-size="12.5" textLength="52" lengthAdjust="spacingAndGlyphs">finance</text></g>
<g id="n-governance"><circle class="g" cx="181" cy="445" r="10"/><text x="135" y="452" font-size="14" textLength="89" lengthAdjust="spacingAndGlyphs">governance</text></g>
<g id="n-covid-19-pandemic"><circle class="b" cx="640" cy="442" r="5"/><text x="577" y="447" font-size="12.5" textLength="123" lengthAdjust="spacingAndGlyphs">covid-19 pandemic</text></g>
<g id="n-credit-scoring"><circle class="r" cx="1052" cy="467" r="5"/><text x="1004" y="471" font-size="12.5" textLength="90" lengthAdjust="spacingAndGlyphs">credit scoring</text></g>
<g id="n-artificial-intelligence"><circle class="r" cx="755" cy="495" r="10"/><text x="674" y="503" font-size="15" textLength="162" lengthAdjust="spacingAndGlyphs">artificial intelligence</text></g>
<g id="n-value-at-risk"><circle class="r" cx="856" cy="500" r="6"/><text x="871" y="507" font-size="12.5" textLength="85" lengthAdjust="spacingAndGlyphs">value-at-risk</text></g>
<g id="n-green-finance"><circle class="r" cx="580" cy="510" r="3"/><text x="530" y="514" font-size="12.5" textLength="91" lengthAdjust="spacingAndGlyphs">green finance</text></g>
<g id="n-stock-market"><circle class="r" cx="688" cy="536" r="4"/><text x="644" y="541" font-size="12.5" textLength="88" lengthAdjust="spacingAndGlyphs">stock market</text></g>
<g id="n-deep-learning"><circle class="r" cx="948" cy="557" r="13"/><text x="891" y="565" font-size="17" textLength="116" lengthAdjust="spacingAndGlyphs">deep learning</text></g>
<g id="n-risk-assessment"><circle class="p" cx="573" cy="566" r="10"/><text x="518" y="572" font-size="14" textLength="117" lengthAdjust="spacingAndGlyphs">risk assessment</text></g>
<g id="n-forecasting"><circle class="r" cx="908" cy="620" r="8"/><text x="867" y="627" font-size="14" textLength="81" lengthAdjust="spacingAndGlyphs">forecasting</text></g>
<g id="n-prediction"><circle class="r" cx="807" cy="637" r="4"/><text x="771" y="641" font-size="12.5" textLength="67" lengthAdjust="spacingAndGlyphs">prediction</text></g>
<g id="n-risk-taking"><circle class="y" cx="188" cy="573" r="6"/><text x="147" y="577" font-size="14" textLength="78" lengthAdjust="spacingAndGlyphs">risk-taking</text></g>
<g id="n-family-firms"><circle class="y" cx="75" cy="595" r="5"/><text x="32" y="602" font-size="14" textLength="84" lengthAdjust="spacingAndGlyphs">family firms</text></g>
<g id="n-firm-risk"><circle class="c" cx="272" cy="617" r="5"/><text x="247" y="623" font-size="12.5" textLength="55" lengthAdjust="spacingAndGlyphs">firm risk</text></g>
<g id="n-entrepreneurship"><circle class="b" cx="445" cy="621" r="5"/><text x="380" y="626" font-size="12.5" textLength="118" lengthAdjust="spacingAndGlyphs">entrepreneurship</text></g>
<g id="n-stock-price-crash-risk"><circle class="g" cx="146" cy="657" r="6"/><text x="69" y="663" font-size="14" textLength="153" lengthAdjust="spacingAndGlyphs">stock price crash risk</text></g>
<g id="n-earnings-management"><circle class="g" cx="221" cy="728" r="7"/><text x="137" y="737" font-size="14" textLength="161" lengthAdjust="spacingAndGlyphs">earnings management</text></g>
<g id="n-innovation"><circle class="y" cx="433" cy="686" r="11"/><text x="392" y="692" font-size="16" textLength="84" lengthAdjust="spacingAndGlyphs">innovation</text></g>
<g id="n-china"><circle class="g" cx="337" cy="580" r="16"/><text x="316" y="587" font-size="18" textLength="48" lengthAdjust="spacingAndGlyphs">china</text></g>
<g id="n-financial-performance"><circle class="b" cx="378" cy="450" r="30"/><text x="240" y="458" font-size="24" textLength="267" lengthAdjust="spacingAndGlyphs">financial performance</text></g>
<g id="n-corporate-social-responsibilit"><circle class="g" cx="253" cy="500" r="38"/><text x="40" y="512" font-size="31" textLength="419" lengthAdjust="spacingAndGlyphs">corporate social responsibilit</text></g>
<g id="n-corporate-governance"><circle class="y" cx="222" cy="392" r="46"/><text x="52" y="405" font-size="31" textLength="344" lengthAdjust="spacingAndGlyphs">corporate governance</text></g>
<g id="n-risk-management"><circle class="r" cx="640" cy="366" r="39"/><text x="513" y="377" font-size="31" textLength="250" lengthAdjust="spacingAndGlyphs">risk management</text></g>
<g id="n-machine-learning"><circle class="r" cx="838" cy="441" r="38"/><text x="715" y="452" font-size="32" textLength="249" lengthAdjust="spacingAndGlyphs">machine learning</text></g>
</g>
</svg>
